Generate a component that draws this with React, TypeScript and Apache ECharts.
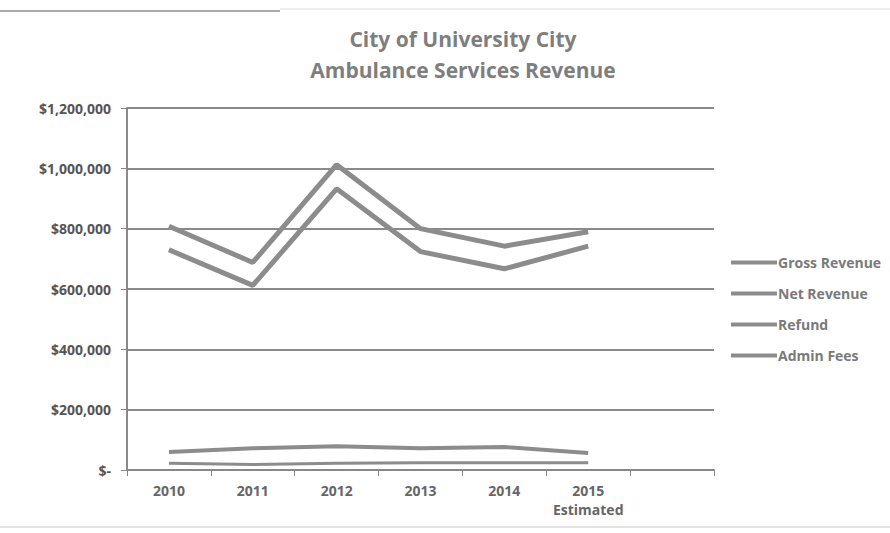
import React, { useEffect, useRef } from "react";
import * as echarts from "echarts";

const categories = ["2010", "2011", "2012", "2013", "2014", "2015\nEstimated", ""];
const grossRevenue = [808000, 688000, 1012000, 800000, 742000, 790000];
const netRevenue = [730000, 612000, 932000, 724000, 667000, 742000];
const refund = [60000, 72000, 79000, 72000, 76000, 56000];
const adminFees = [22000, 18000, 22000, 24000, 24000, 24000];
const yTicks = [0, 200000, 400000, 600000, 800000, 1000000, 1200000];

const fmt = (v: number) =>
  v === 0 ? "$-" : "$" + v.toString().replace(/\B(?=(\d{3})+(?!\d))/g, ",");

export default function App() {
  const ref = useRef<HTMLDivElement>(null);
  useEffect(() => {
    if (!ref.current) return;
    const chart = echarts.init(ref.current, undefined, { renderer: "svg" });
    const lineColor = "#8c8c8c";
    const mk = (name: string, data: number[], w: number) => ({
      name,
      type: "line",
      data,
      symbol: "none",
      lineStyle: { color: lineColor, width: w },
      itemStyle: { color: lineColor },
    });
    chart.setOption({
      animation: false,
      backgroundColor: "#ffffff",
      title: {
        text: "City of University City\nAmbulance Services Revenue",
        left: 458,
        top: 18,
        textAlign: "center",
        textStyle: {
          fontFamily: "Open Sans",
          fontWeight: "bold",
          fontSize: 21,
          color: "#7e7e7e",
          lineHeight: 31,
        },
      },
      legend: {
        orient: "vertical",
        left: 726,
        top: 248,
        itemGap: 12,
        itemWidth: 46,
        itemHeight: 4,
        icon: "rect",
        textStyle: {
          fontFamily: "Open Sans",
          fontWeight: "bold",
          fontSize: 14,
          color: "#7a7a7a",
          lineHeight: 19,
          padding: [0, 0, 0, -4],
        },
        data: ["Gross Revenue", "Net Revenue", "Refund", "Admin Fees"],
      },
      grid: { left: 127, right: 176, top: 108, bottom: 63 },
      xAxis: {
        type: "category",
        data: categories,
        boundaryGap: true,
        axisLine: { lineStyle: { color: "#888", width: 2 } },
        axisTick: { show: true, interval: 0, lineStyle: { color: "#888" }, length: 6 },
        axisLabel: {
          interval: 0,
          fontFamily: "Open Sans",
          fontWeight: "bold",
          fontSize: 14,
          color: "#666",
          margin: 11,
          lineHeight: 19,
        },
      },
      yAxis: {
        type: "value",
        min: 0,
        max: 1200000,
        interval: 200000,
        axisLine: { show: true, lineStyle: { color: "#888", width: 2 } },
        axisTick: { show: true, lineStyle: { color: "#888" }, length: 6 },
        splitLine: { lineStyle: { color: "#8a8a8a", width: 2 } },
        axisLabel: {
          fontFamily: "Open Sans",
          fontWeight: "bold",
          fontSize: 14,
          color: "#555",
          margin: 16,
          formatter: (v: number) => (yTicks.includes(v) ? fmt(v) : ""),
        },
      },
      graphic: [
        {
          type: "line",
          shape: { x1: 0, y1: 11, x2: 280, y2: 11 },
          style: { stroke: "#aaa", lineWidth: 2 },
        },
        {
          type: "line",
          shape: { x1: 280, y1: 9, x2: 890, y2: 9 },
          style: { stroke: "#ddd", lineWidth: 1 },
        },
        {
          type: "line",
          shape: { x1: 0, y1: 527, x2: 890, y2: 527 },
          style: { stroke: "#c8c8c8", lineWidth: 1 },
        },
      ],
      series: [
        mk("Gross Revenue", grossRevenue, 5),
        mk("Net Revenue", netRevenue, 5),
        mk("Refund", refund, 4),
        mk("Admin Fees", adminFees, 3),
      ],
    });
    return () => chart.dispose();
  }, []);
  return (
    <div
      ref={ref}
      style={{ position: "fixed", left: 0, top: 0, width: 890, height: 533 }}
    />
  );
}
